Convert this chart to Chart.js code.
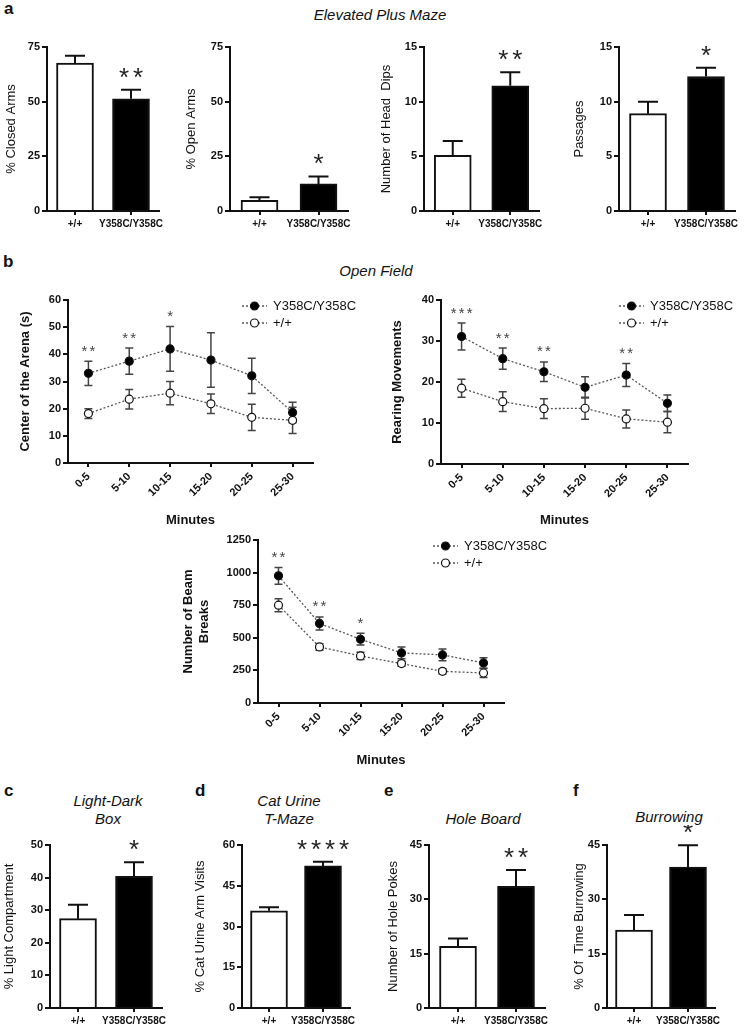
<!DOCTYPE html>
<html>
<head>
<meta charset="utf-8">
<script src="https://cdn.jsdelivr.net/npm/chart.js@4.4.1/dist/chart.umd.min.js"></script>
<style>
  html, body { margin: 0; padding: 0; background: #fff; }
  #fig { position: relative; width: 748px; height: 1032px; overflow: hidden;
         font-family: "Liberation Sans", Arial, sans-serif; color: #111; }
  #fig canvas { position: absolute; }
  .lbl { position: absolute; font-weight: bold; font-size: 17px; line-height: 1; }
  .ttl { position: absolute; font-style: italic; font-size: 15px; line-height: 1;
         white-space: nowrap; transform: translate(-50%, -50%); text-align: center; }
</style>
</head>
<body>
<div id="fig">
  <div class="lbl" style="left:4px;top:0px">a</div>
  <div class="ttl" style="left:380px;top:14px">Elevated Plus Maze</div>
  <div class="lbl" style="left:3px;top:253px">b</div>
  <div class="ttl" style="left:376px;top:270px">Open Field</div>
  <div class="lbl" style="left:4px;top:782px">c</div>
  <div class="ttl" style="left:108px;top:800px">Light-Dark</div>
  <div class="ttl" style="left:108px;top:818px">Box</div>
  <div class="lbl" style="left:195px;top:782px">d</div>
  <div class="ttl" style="left:289px;top:800px">Cat Urine</div>
  <div class="ttl" style="left:289px;top:818px">T-Maze</div>
  <div class="lbl" style="left:384px;top:782px">e</div>
  <div class="ttl" style="left:483px;top:818px">Hole Board</div>
  <div class="lbl" style="left:573px;top:782px">f</div>
  <div class="ttl" style="left:669px;top:816px">Burrowing</div>

  <canvas id="a1"></canvas><canvas id="a2"></canvas><canvas id="a3"></canvas><canvas id="a4"></canvas>
  <canvas id="b1"></canvas><canvas id="b2"></canvas><canvas id="b3"></canvas>
  <canvas id="c1"></canvas><canvas id="d1"></canvas><canvas id="e1"></canvas><canvas id="f1"></canvas>
</div>
<script>
// ---- data ----
const groups = ['+/+', 'Y358C/Y358C'];
const minutes = ['0-5', '5-10', '10-15', '15-20', '20-25', '25-30'];

// a: Elevated Plus Maze
const closedArms = [67.6, 51.3];
const closedArmsErr = [3.4, 4.1];
const closedArmsStars = ['', '**'];
const openArms = [4.9, 12.4];
const openArmsErr = [1.4, 3.4];
const openArmsStars = ['', '*'];
const headDips = [5.1, 11.45];
const headDipsErr = [1.3, 1.25];
const headDipsStars = ['', '**'];
const passages = [8.9, 12.3];
const passagesErr = [1.1, 0.8];
const passagesStars = ['', '*'];

// b: Open Field
const centerMut = [33.0, 37.5, 42.0, 37.9, 32.1, 18.6];
const centerMutErr = [4.5, 4.8, 8.2, 10.0, 6.5, 3.8];
const centerWt = [18.2, 23.5, 25.7, 21.8, 16.8, 15.7];
const centerWtErr = [1.8, 3.6, 4.3, 3.6, 4.8, 4.8];
const centerStars = ['**', '**', '*', '', '', ''];

const rearMut = [31.1, 25.7, 22.5, 18.7, 21.7, 14.8];
const rearMutErr = [3.3, 2.6, 2.4, 2.6, 2.8, 2.0];
const rearWt = [18.5, 15.2, 13.5, 13.6, 11.0, 10.2];
const rearWtErr = [2.2, 2.4, 2.4, 2.7, 2.2, 2.6];
const rearStars = ['***', '**', '**', '', '**', ''];

const beamMut = [975, 610, 489, 384, 369, 307];
const beamMutErr = [65, 50, 45, 45, 45, 40];
const beamWt = [750, 430, 361, 302, 243, 230];
const beamWtErr = [50, 25, 28, 20, 20, 35];
const beamStars = ['**', '**', '*', '', '', ''];

// c-f
const lightComp = [27.4, 40.4];
const lightCompErr = [4.3, 4.3];
const lightCompStars = ['', '*'];
const catUrine = [35.8, 52.3];
const catUrineErr = [1.3, 1.5];
const catUrineStars = ['', '****'];
const holePokes = [17.0, 33.6];
const holePokesErr = [2.2, 4.5];
const holePokesStars = ['', '**'];
const burrowing = [21.5, 38.9];
const burrowingErr = [4.2, 6.0];
const burrowingStars = ['', '*'];

// ---- look ----
const INK = '#111';
const SANS = '"Liberation Sans", Arial, sans-serif';

// error bars: upper only for bars, both ways for the line plots
const errorBarPlugin = {
    id: 'errorBars',
    beforeDatasetsDraw(chart, args, opts) { if (opts.behind) drawErrors(chart, opts); },
    afterDatasetsDraw(chart, args, opts) { if (!opts.behind) drawErrors(chart, opts); }
};

function drawErrors(chart, opts) {
    const ctx = chart.ctx;
    const y = chart.scales.y;
    chart.data.datasets.forEach((ds, i) => {
        if (!ds.errors) return;
        const meta = chart.getDatasetMeta(i);
        ctx.save();
        ctx.strokeStyle = opts.color;
        ctx.lineWidth = opts.width;
        meta.data.forEach((el, j) => {
            const v = ds.data[j], e = ds.errors[j];
            const yTop = y.getPixelForValue(v + e);
            const yBot = y.getPixelForValue(opts.upperOnly ? v : v - e);
            ctx.beginPath();
            ctx.moveTo(el.x, yBot);
            ctx.lineTo(el.x, yTop);
            ctx.moveTo(el.x - opts.cap, yTop);
            ctx.lineTo(el.x + opts.cap, yTop);
            if (!opts.upperOnly) {
                ctx.moveTo(el.x - opts.cap, yBot);
                ctx.lineTo(el.x + opts.cap, yBot);
            }
            ctx.stroke();
        });
        ctx.restore();
    });
}

// significance asterisks, placed above the highest error bar of each category
const starPlugin = {
    id: 'stars',
    afterDatasetsDraw(chart, args, opts) {
        if (!opts.labels) return;
        const ctx = chart.ctx, y = chart.scales.y, x = chart.scales.x;
        ctx.save();
        ctx.fillStyle = opts.color;
        ctx.font = `${opts.size}px ${SANS}`;
        ctx.textAlign = 'center';
        ctx.textBaseline = 'alphabetic';
        opts.labels.forEach((s, j) => {
            if (!s) return;
            let top = -Infinity;
            chart.data.datasets.forEach(ds => {
                top = Math.max(top, ds.data[j] + (ds.errors ? ds.errors[j] : 0));
            });
            const cy = y.getPixelForValue(top) - opts.offset;
            const cx = x.getPixelForValue(j);
            const n = s.length;
            for (let k = 0; k < n; k++) {
                ctx.fillText('*', cx + (k - (n - 1) / 2) * opts.gap, cy + opts.size * 0.57);
            }
        });
        ctx.restore();
    }
};

// legend drawn inside the plot: dotted line, marker, label
const lineLegendPlugin = {
    id: 'lineLegend',
    afterDraw(chart, args, opts) {
        if (!opts.display) return;
        const ctx = chart.ctx, area = chart.chartArea;
        chart.data.datasets.forEach((ds, i) => {
            const x0 = area.left + opts.x;
            const y0 = area.top + opts.y + i * opts.rowGap;
            ctx.save();
            ctx.strokeStyle = ds.borderColor;
            ctx.lineWidth = ds.borderWidth;
            ctx.setLineDash(ds.borderDash);
            ctx.beginPath();
            ctx.moveTo(x0, y0);
            ctx.lineTo(x0 + 25, y0);
            ctx.stroke();
            ctx.setLineDash([]);
            ctx.beginPath();
            ctx.arc(x0 + 12.5, y0, ds.pointRadius, 0, Math.PI * 2);
            ctx.fillStyle = ds.pointBackgroundColor;
            ctx.fill();
            ctx.lineWidth = ds.pointBorderWidth;
            ctx.strokeStyle = ds.pointBorderColor;
            ctx.stroke();
            ctx.fillStyle = INK;
            ctx.font = `13px ${SANS}`;
            ctx.textBaseline = 'middle';
            ctx.fillText(ds.label, x0 + 31, y0);
            ctx.restore();
        });
    }
};

// box: canvas left/top/bottom, y axis x, plot right, top value y, zero line y, spare room on the right
function placeCanvas(id, box) {
    const c = document.getElementById(id);
    const w = box.right + box.padRight - box.left, h = box.bottom - box.top;
    c.width = w; c.height = h;
    c.style.left = box.left + 'px';
    c.style.top = box.top + 'px';
    c.style.width = w + 'px';
    c.style.height = h + 'px';
    return c;
}

function yScale(box, max, step, title, bold) {
    return {
        min: 0, max: max, z: 1,
        ticks: {
            stepSize: step, color: INK, padding: 2,
            font: { family: SANS, size: 11, weight: 'bold' },
            callback: v => String(v)
        },
        grid: { drawOnChartArea: false, drawTicks: true, tickLength: 5, color: INK, lineWidth: 2 },
        border: { display: true, color: INK, width: 2 },
        title: {
            display: true, text: title, color: INK, padding: 0,
            font: { family: SANS, size: 13, weight: bold ? 'bold' : 'normal', lineHeight: 1.2 }
        },
        afterFit(scale) {
            scale.width = box.axisX - box.left;
            scale.paddingTop = 0;
            scale.paddingBottom = 0;
        }
    };
}

function xScale(box, rotated, title) {
    return {
        type: 'category', offset: true, z: 1,
        ticks: {
            color: INK, padding: 3, autoSkip: false,
            minRotation: rotated ? 45 : 0, maxRotation: rotated ? 45 : 0,
            font: { family: SANS, size: rotated ? 11 : 10, weight: 'bold' }
        },
        grid: { offset: false, drawOnChartArea: false, drawTicks: true, tickLength: 4, color: INK, lineWidth: 2 },
        border: { display: true, color: INK, width: 2 },
        title: {
            display: !!title, text: title || '', color: INK, padding: 0,
            font: { family: SANS, size: 13, weight: 'bold', lineHeight: 1.2 }
        },
        afterFit(scale) {
            scale.height = box.bottom - box.base;
            scale.paddingLeft = 0;
            scale.paddingRight = 0;
        }
    };
}

function barChart(id, box, values, errors, stars, yMax, yStep, yTitle) {
    box.padRight = 24;
    const canvas = placeCanvas(id, box);
    return new Chart(canvas, {
        type: 'bar',
        data: {
            labels: groups,
            datasets: [{
                data: values,
                errors: errors,
                backgroundColor: ['#fff', '#000'],
                borderColor: INK,
                borderWidth: 2,
                barThickness: 37
            }]
        },
        options: {
            responsive: false, animation: false, devicePixelRatio: 1,
            layout: { autoPadding: false, padding: { top: box.plotTop - box.top, right: box.padRight, left: 0, bottom: 0 } },
            scales: { x: xScale(box, false), y: yScale(box, yMax, yStep, yTitle, false) },
            plugins: {
                legend: { display: false }, tooltip: { enabled: false },
                errorBars: { upperOnly: true, cap: 10, width: 2, color: INK, behind: false },
                stars: { labels: stars, size: 26, gap: 14, offset: 19, color: '#222' }
            }
        },
        plugins: [errorBarPlugin, starPlugin]
    });
}

function lineDataset(label, values, errors, filled) {
    return {
        label: label,
        data: values,
        errors: errors,
        borderColor: '#555',
        borderWidth: 1.3,
        borderDash: [2, 2],
        pointRadius: 4,
        pointBackgroundColor: filled ? '#000' : '#fff',
        pointBorderColor: INK,
        pointBorderWidth: 1.2,
        fill: false,
        tension: 0
    };
}

function lineChart(id, box, mut, mutErr, wt, wtErr, stars, yMax, yStep, yTitle, legendX) {
    box.padRight = 60;
    const canvas = placeCanvas(id, box);
    return new Chart(canvas, {
        type: 'line',
        data: {
            labels: minutes,
            datasets: [
                lineDataset('Y358C/Y358C', mut, mutErr, true),
                lineDataset('+/+', wt, wtErr, false)
            ]
        },
        options: {
            responsive: false, animation: false, devicePixelRatio: 1,
            layout: { autoPadding: false, padding: { top: box.plotTop - box.top, right: box.padRight, left: 0, bottom: 0 } },
            scales: { x: xScale(box, true, 'Minutes'), y: yScale(box, yMax, yStep, yTitle, true) },
            plugins: {
                legend: { display: false }, tooltip: { enabled: false },
                errorBars: { upperOnly: false, cap: 4, width: 1.5, color: '#444', behind: true },
                stars: { labels: stars, size: 15, gap: 8, offset: 14, color: '#444' },
                lineLegend: { display: true, x: legendX, y: 6, rowGap: 17 }
            }
        },
        plugins: [errorBarPlugin, starPlugin, lineLegendPlugin]
    });
}

// ---- panel a ----
barChart('a1', { left: 4, top: 27, axisX: 47, right: 159, plotTop: 47, base: 211, bottom: 236 },
    closedArms, closedArmsErr, closedArmsStars, 75, 25, '% Closed Arms');
barChart('a2', { left: 184, top: 27, axisX: 230, right: 348, plotTop: 47, base: 211, bottom: 236 },
    openArms, openArmsErr, openArmsStars, 75, 25, '% Open Arms');
barChart('a3', { left: 379, top: 27, axisX: 424, right: 539, plotTop: 47, base: 211, bottom: 236 },
    headDips, headDipsErr, headDipsStars, 15, 5, 'Number of Head  Dips');
barChart('a4', { left: 572, top: 27, axisX: 619, right: 735, plotTop: 47, base: 211, bottom: 236 },
    passages, passagesErr, passagesStars, 15, 5, 'Passages');

// ---- panel b ----
lineChart('b1', { left: 18, top: 285, axisX: 68, right: 313, plotTop: 300, base: 463, bottom: 528 },
    centerMut, centerMutErr, centerWt, centerWtErr, centerStars, 60, 10, 'Center of the Arena (s)', 174);
lineChart('b2', { left: 390, top: 285, axisX: 441, right: 688, plotTop: 300, base: 464, bottom: 528 },
    rearMut, rearMutErr, rearWt, rearWtErr, rearStars, 40, 10, 'Rearing Movements', 178);
lineChart('b3', { left: 181, top: 525, axisX: 258, right: 504, plotTop: 540, base: 703, bottom: 768 },
    beamMut, beamMutErr, beamWt, beamWtErr, beamStars, 1250, 250, ['Number of Beam', 'Breaks'], 175);

// ---- panels c-f ----
barChart('c1', { left: 2, top: 825, axisX: 50, right: 162, plotTop: 845, base: 1008, bottom: 1032 },
    lightComp, lightCompErr, lightCompStars, 50, 10, '% Light Compartment');
barChart('d1', { left: 193, top: 825, axisX: 242, right: 350, plotTop: 845, base: 1008, bottom: 1032 },
    catUrine, catUrineErr, catUrineStars, 60, 15, '% Cat Urine Arm Visits');
barChart('e1', { left: 386, top: 825, axisX: 429, right: 545, plotTop: 845, base: 1008, bottom: 1032 },
    holePokes, holePokesErr, holePokesStars, 45, 15, 'Number of Hole Pokes');
barChart('f1', { left: 572, top: 825, axisX: 607, right: 715, plotTop: 845, base: 1008, bottom: 1032 },
    burrowing, burrowingErr, burrowingStars, 45, 15, '% Of  Time Burrowing');
</script>
</body>
</html>
